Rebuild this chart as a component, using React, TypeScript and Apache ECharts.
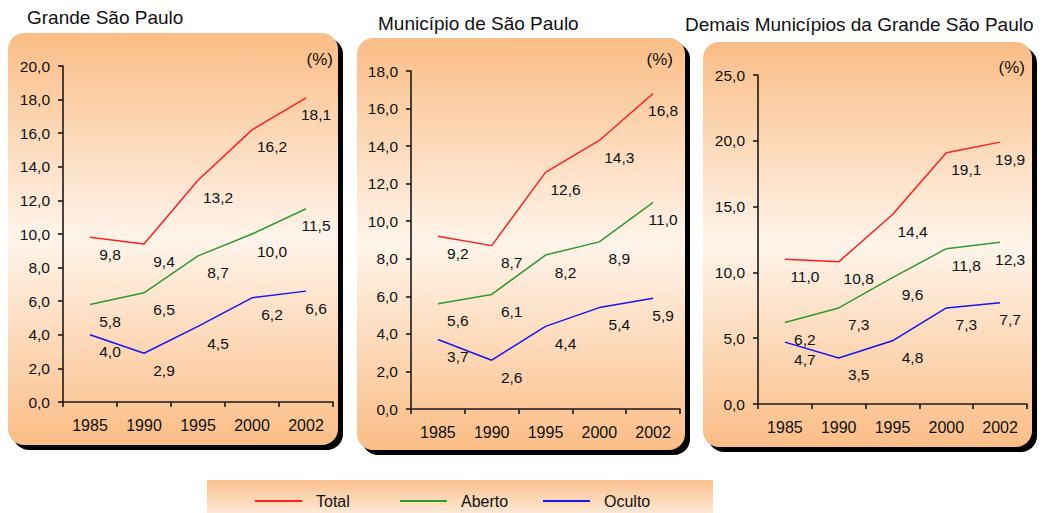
import React, { useEffect, useRef } from 'react';
import * as echarts from 'echarts';

const years = ['1985', '1990', '1995', '2000', '2002'];
const seriesNames = ['Total', 'Aberto', 'Oculto'];
const panelTitles = ['Grande São Paulo', 'Município de São Paulo', 'Demais Municípios da Grande São Paulo'];
const unitLabel = '(%)';

const gspTotal = [9.8, 9.4, 13.2, 16.2, 18.1];
const gspAberto = [5.8, 6.5, 8.7, 10.0, 11.5];
const gspOculto = [4.0, 2.9, 4.5, 6.2, 6.6];
const mspTotal = [9.2, 8.7, 12.6, 14.3, 16.8];
const mspAberto = [5.6, 6.1, 8.2, 8.9, 11.0];
const mspOculto = [3.7, 2.6, 4.4, 5.4, 5.9];
const demTotal = [11.0, 10.8, 14.4, 19.1, 19.9];
const demAberto = [6.2, 7.3, 9.6, 11.8, 12.3];
const demOculto = [4.7, 3.5, 4.8, 7.3, 7.7];

const yMax = [20, 18, 25];
const yInterval = [2, 2, 5];

const panelData = [
  [gspTotal, gspAberto, gspOculto],
  [mspTotal, mspAberto, mspOculto],
  [demTotal, demAberto, demOculto],
];

// layout (pixels)
const grids = [
  { left: 63, top: 66, width: 270, height: 336 },
  { left: 411, top: 71, width: 269, height: 338 },
  { left: 758, top: 75, width: 269, height: 329 },
];
const boxes = [
  { x: 8, y: 33, w: 330, h: 412 },
  { x: 357, y: 38, w: 328, h: 412 },
  { x: 703, y: 42, w: 329, h: 405 },
];
const titlePos = [
  { left: 27, top: 8 },
  { left: 378, top: 14 },
  { left: 685, top: 15 },
];
const unitPos = [
  { x: 333, y: 59 },
  { x: 673, y: 59 },
  { x: 1025, y: 67 },
];
const legendLeft = [255, 400, 543];
const colors = ['#FF1F1F', '#2F9A2F', '#1515F5'];
const FONT = '"Liberation Sans", Arial, sans-serif';
const fmt = (v: number) => v.toFixed(1).replace('.', ',');

export default function App() {
  const ref = useRef<HTMLDivElement>(null);
  useEffect(() => {
    if (!ref.current) return;
    const chart = echarts.init(ref.current, undefined, { renderer: 'svg' });

    const panelGradient = () =>
      new echarts.graphic.LinearGradient(0, 0, 0, 1, [
        { offset: 0, color: '#FABD86' },
        { offset: 0.5, color: '#FFF4EA' },
        { offset: 1, color: '#FABD86' },
      ]);

    const graphic: any[] = [];
    boxes.forEach((b) => {
      graphic.push({
        type: 'rect',
        z: 0,
        shape: { x: b.x + 5, y: b.y + 5, width: b.w, height: b.h, r: 16 },
        style: { fill: '#000' },
      });
      graphic.push({
        type: 'rect',
        z: 0,
        shape: { x: b.x, y: b.y, width: b.w, height: b.h, r: 16 },
        style: { fill: panelGradient() },
      });
    });
    unitPos.forEach((u) => {
      graphic.push({
        type: 'text',
        z: 1,
        x: u.x,
        y: u.y,
        style: {
          text: unitLabel,
          align: 'right',
          verticalAlign: 'middle',
          fontSize: 17,
          fontFamily: FONT,
          fill: '#111',
        },
      });
    });
    graphic.push({
      type: 'rect',
      z: 0,
      shape: { x: 207, y: 480, width: 506, height: 40 },
      style: {
        fill: new echarts.graphic.LinearGradient(0, 0, 0, 1, [
          { offset: 0, color: '#FAC18E' },
          { offset: 1, color: '#FFF0E2' },
        ]),
      },
    });

    const series: any[] = [];
    panelData.forEach((group, pi) => {
      group.forEach((vals, si) => {
        series.push({
          type: 'line',
          name: seriesNames[si],
          xAxisIndex: pi,
          yAxisIndex: pi,
          z: 4,
          color: colors[si],
          symbol: 'circle',
          symbolSize: 0,
          lineStyle: { color: colors[si], width: 1.5 },
          label: {
            show: true,
            position: 'bottom',
            fontSize: 15.5,
            fontFamily: FONT,
            color: '#111',
            formatter: (p: any) => fmt(p.value),
          },
          data: vals.map((v, i) => ({
            value: v,
            label: { offset: i === vals.length - 1 ? [10, 4] : [20, 4] },
          })),
        });
      });
    });

    const axisLine = { show: true, lineStyle: { color: '#1a1a1a', width: 1.6 } };

    chart.setOption({
      animation: false,
      textStyle: { fontFamily: FONT },
      title: panelTitles.map((t, i) => ({
        text: t,
        left: titlePos[i].left,
        top: titlePos[i].top,
        padding: 0,
        textStyle: { fontSize: 19, fontWeight: 'normal', color: '#111', fontFamily: FONT },
      })),
      legend: seriesNames.map((n, i) => ({
        data: [n],
        left: legendLeft[i],
        top: 493,
        padding: 0,
        icon: 'rect',
        itemWidth: 47,
        itemHeight: 2,
        selectedMode: false,
        textStyle: { fontSize: 16, color: '#111', fontFamily: FONT, padding: [0, 0, 0, 9] },
      })),
      grid: grids.map((g) => ({ ...g, containLabel: false })),
      xAxis: grids.map((_, i) => ({
        type: 'category',
        gridIndex: i,
        data: years,
        boundaryGap: true,
        z: 3,
        axisLine,
        axisTick: { show: true, length: 5, lineStyle: { color: '#1a1a1a', width: 1.6 } },
        axisLabel: { fontSize: 16, color: '#111', fontFamily: FONT, margin: 15 },
        splitLine: { show: false },
      })),
      yAxis: grids.map((_, i) => ({
        type: 'value',
        gridIndex: i,
        min: 0,
        max: yMax[i],
        interval: yInterval[i],
        z: 3,
        axisLine,
        axisTick: { show: true, length: 5, lineStyle: { color: '#1a1a1a', width: 1.6 } },
        axisLabel: {
          fontSize: 15.5,
          color: '#111',
          fontFamily: FONT,
          margin: 13,
          formatter: (v: number) => fmt(v),
        },
        splitLine: { show: false },
      })),
      graphic,
      series,
    });
    return () => chart.dispose();
  }, []);
  return (
    <div
      ref={ref}
      style={{ position: 'fixed', left: 0, top: 0, width: 1051, height: 513, background: '#fff' }}
    />
  );
}
